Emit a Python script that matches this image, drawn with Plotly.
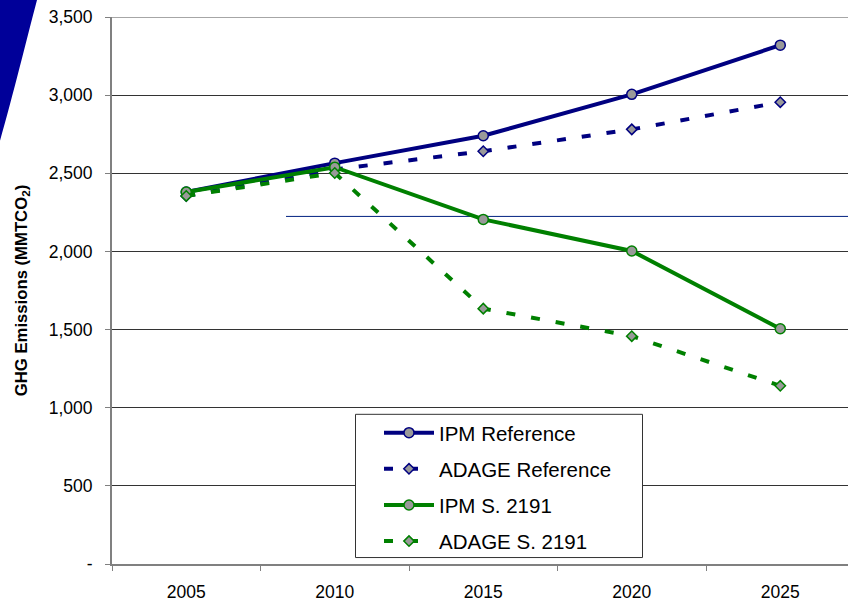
import plotly.graph_objects as go

years = ["2005", "2010", "2015", "2020", "2025"]
ipm_reference = [2380, 2565, 2740, 3005, 3320]
adage_reference = [2355, 2525, 2641, 2781, 2955]
ipm_s2191 = [2380, 2539, 2205, 2003, 1505]
adage_s2191 = [2355, 2502, 1634, 1458, 1140]

y_tickvals = [0, 500, 1000, 1500, 2000, 2500, 3000, 3500]
y_ticktext = ["-", "500", "1,000", "1,500", "2,000", "2,500", "3,000", "3,500"]

NAVY = "#000080"
GREEN = "#008000"
MFILL = "#999999"
FONT = "Liberation Sans, Arial, sans-serif"

W, H = 848, 602
L, R, T, B = 112, 0, 17, 35
PW, PH = W - L - R, H - T - B


def px(xp):
    return (xp - L) / PW


def py(yp):
    return (H - B - yp) / PH


fig = go.Figure()

series = [
    ("IPM Reference", ipm_reference, NAVY, "solid", "circle", 10),
    ("ADAGE Reference", adage_reference, NAVY, "9px,16px", "diamond", 8),
    ("IPM S. 2191", ipm_s2191, GREEN, "solid", "circle", 10),
    ("ADAGE S. 2191", adage_s2191, GREEN, "9px,16px", "diamond", 8),
]
for i, (name, vals, col, dash, sym, size) in enumerate(series):
    fig.add_trace(go.Scatter(
        x=years, y=vals, name=name, mode="lines+markers",
        legendgroup=f"g{i}",
        line=dict(color=col, width=4, dash=dash),
        marker=dict(symbol=sym, size=size, color=MFILL,
                    line=dict(color=col, width=1.5)),
    ))

# decorative swoosh (top-left)
swoosh = (f"M {px(-2)},{py(-5)} L {px(38)},{py(-5)} L {px(37)},{py(0)} "
          f"C {px(27)},{py(38)} {px(12)},{py(100)} {px(-1)},{py(145)} "
          f"L {px(-2)},{py(145)} Z")
shapes = [
    dict(type="path", xref="paper", yref="paper", path=swoosh,
         fillcolor="#000099", line=dict(width=0), layer="above"),
    # top border line
    dict(type="line", xref="paper", yref="y", x0=0, x1=1, y0=3500, y1=3500,
         line=dict(color="#a6a6a6", width=2), layer="above"),
    # stray navy rule
    dict(type="line", xref="paper", yref="paper", x0=px(286), x1=1,
         y0=py(217.5), y1=py(217.5), line=dict(color="#002080", width=1),
         layer="below"),
    # legend frame
    dict(type="rect", xref="paper", yref="paper",
         x0=px(355.5), x1=px(642.5), y0=py(416.5), y1=py(560.5),
         fillcolor="white", line=dict(color="#333333", width=1),
         layer="above"),
]

fig.update_layout(
    width=W, height=H,
    margin=dict(l=L, r=R, t=T, b=B, pad=0),
    paper_bgcolor="white", plot_bgcolor="white",
    font=dict(family=FONT, size=17, color="black"),
    showlegend=True,
    legend=dict(
        x=px(379), y=py(415), xanchor="left", yanchor="top",
        bgcolor="rgba(0,0,0,0)", borderwidth=0,
        font=dict(size=20.5, family=FONT, color="black"),
        traceorder="grouped", tracegroupgap=6.5, itemwidth=50,
    ),
    shapes=shapes,
    xaxis=dict(
        type="category", range=[-0.5, 4.456],
        showgrid=False, zeroline=False,
        showline=True, linecolor="#808080", linewidth=2,
        ticks="outside", tickson="boundaries", ticklen=5,
        tickcolor="#808080", tickwidth=1,
        ticklabelstandoff=11,
        tickfont=dict(size=17.5),
    ),
    yaxis=dict(
        range=[0, 3500], tickvals=y_tickvals, ticktext=y_ticktext,
        showgrid=True, gridcolor="#333333", gridwidth=1,
        zeroline=False,
        showline=True, linecolor="#808080", linewidth=2,
        ticks="outside", ticklen=5, tickcolor="#808080", tickwidth=1,
        ticklabelstandoff=9,
        tickfont=dict(size=17.5),
        title=dict(text="GHG Emissions (MMTCO<sub>2</sub>)",
                   font=dict(size=16.7, family=FONT, weight="bold"),
                   standoff=17),
    ),
)

fig.write_html("out.html",
               config={"displayModeBar": False},
               post_script="document.body.style.margin='0px';")
